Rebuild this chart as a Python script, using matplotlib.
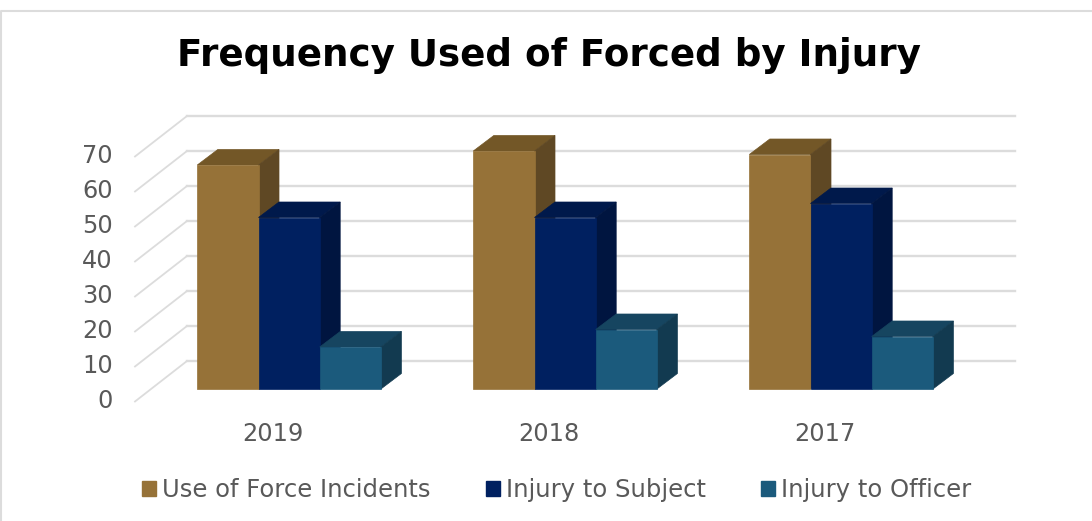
import matplotlib
matplotlib.use("Agg")
import matplotlib.pyplot as plt
from matplotlib.lines import Line2D
from matplotlib.patches import Patch
from matplotlib.transforms import ScaledTranslation

years = ["2019", "2018", "2017"]
incidents = [64, 68, 67]
subject = [49, 49, 53]
officer = [12, 17, 15]
series_names = ["Use of Force Incidents", "Injury to Subject", "Injury to Officer"]
y_ticks = [0, 10, 20, 30, 40, 50, 60, 70]

# front, top, side shade of each series
front_colors = ["#967238", "#002060", "#1B5A7C"]
top_colors = ["#735727", "#00194B", "#164560"]
side_colors = ["#5F4824", "#001540", "#123A50"]
grid_color = "#DCDCDC"
text_color = "#595959"

W, H = 1092, 521
fig = plt.figure(figsize=(W / 100, H / 100), dpi=100)

# front plane of the fake 3D box: 276 px per year, 35 px per 10 units
ax = fig.add_axes([135 / W, 1 - 401.5 / H, 828 / W, 245 / H])
ax.set_xlim(0, 3)
ax.set_ylim(0, 70)
for s in ax.spines.values():
    s.set_visible(False)
ax.patch.set_visible(False)

px_x = 3 / 828
px_y = 70 / 245
wall_dx, wall_dy = 52 * px_x, 40.5 * px_y
bar_dx, bar_dy = 16.1 * px_x, 12.5 * px_y
depth_dx, depth_dy = 20.5 * px_x, 15.5 * px_y
bar_w = 61.2 * px_x

# floor/wall grid
for v in y_ticks:
    ax.plot([0, wall_dx], [v, v + wall_dy], color=grid_color, lw=1.3,
            clip_on=False, zorder=1)
    ax.plot([wall_dx, 3 + wall_dx], [v + wall_dy, v + wall_dy], color=grid_color, lw=1.7,
            clip_on=False, zorder=1)

# bars: top and side first, front last, left to right so they overlap properly
for i, vals in enumerate([incidents, subject, officer]):
    for j, v in enumerate(vals):
        x0 = j + 0.5 + bar_dx + (i - 1.5) * bar_w
        x1 = x0 + bar_w
        y0 = bar_dy
        y1 = bar_dy + v
        ax.fill([x0, x1, x1 + depth_dx, x0 + depth_dx],
                [y1, y1, y1 + depth_dy, y1 + depth_dy],
                fc=top_colors[i], ec=top_colors[i], lw=0.5, zorder=2 + i, clip_on=False)
        ax.fill([x1, x1 + depth_dx, x1 + depth_dx, x1],
                [y0, y0 + depth_dy, y1 + depth_dy, y1],
                fc=side_colors[i], ec=side_colors[i], lw=0.5, zorder=2 + i, clip_on=False)
        ax.bar(x0, v, bar_w, bottom=y0, align="edge", color=front_colors[i],
               edgecolor=front_colors[i], lw=0.5, zorder=2.5 + i, clip_on=False)

ax.set_xticks([0.5, 1.5, 2.5], years)
ax.set_yticks(y_ticks, [str(v) for v in y_ticks])
ax.tick_params(axis="x", length=0, pad=15, labelsize=17.3, labelcolor=text_color)
ax.tick_params(axis="y", length=0, pad=16, labelsize=17.3, labelcolor=text_color)
for label in ax.get_yticklabels():
    label.set_transform(label.get_transform() + ScaledTranslation(0, 2 / 72, fig.dpi_scale_trans))

ax.set_title("Frequency Used of Forced by Injury", fontsize=26.8, fontweight="bold",
             color="black", pad=65)

handles = [Patch(color=c) for c in front_colors]
fig.legend(handles, series_names, ncols=3, frameon=False, fontsize=17.5,
           labelcolor=text_color, loc="center", bbox_to_anchor=(556.5 / W, 1 - 490 / H),
           handlelength=0.58, handleheight=0.58, handletextpad=0.25, columnspacing=2.26)

# outer chart frame, cut off by the image at right and bottom
fig.add_artist(Line2D([1 / W, 1 / W, 1], [0, 1 - 11 / H, 1 - 11 / H], color=grid_color, lw=1.5))

fig.savefig("out.png", dpi=100)
